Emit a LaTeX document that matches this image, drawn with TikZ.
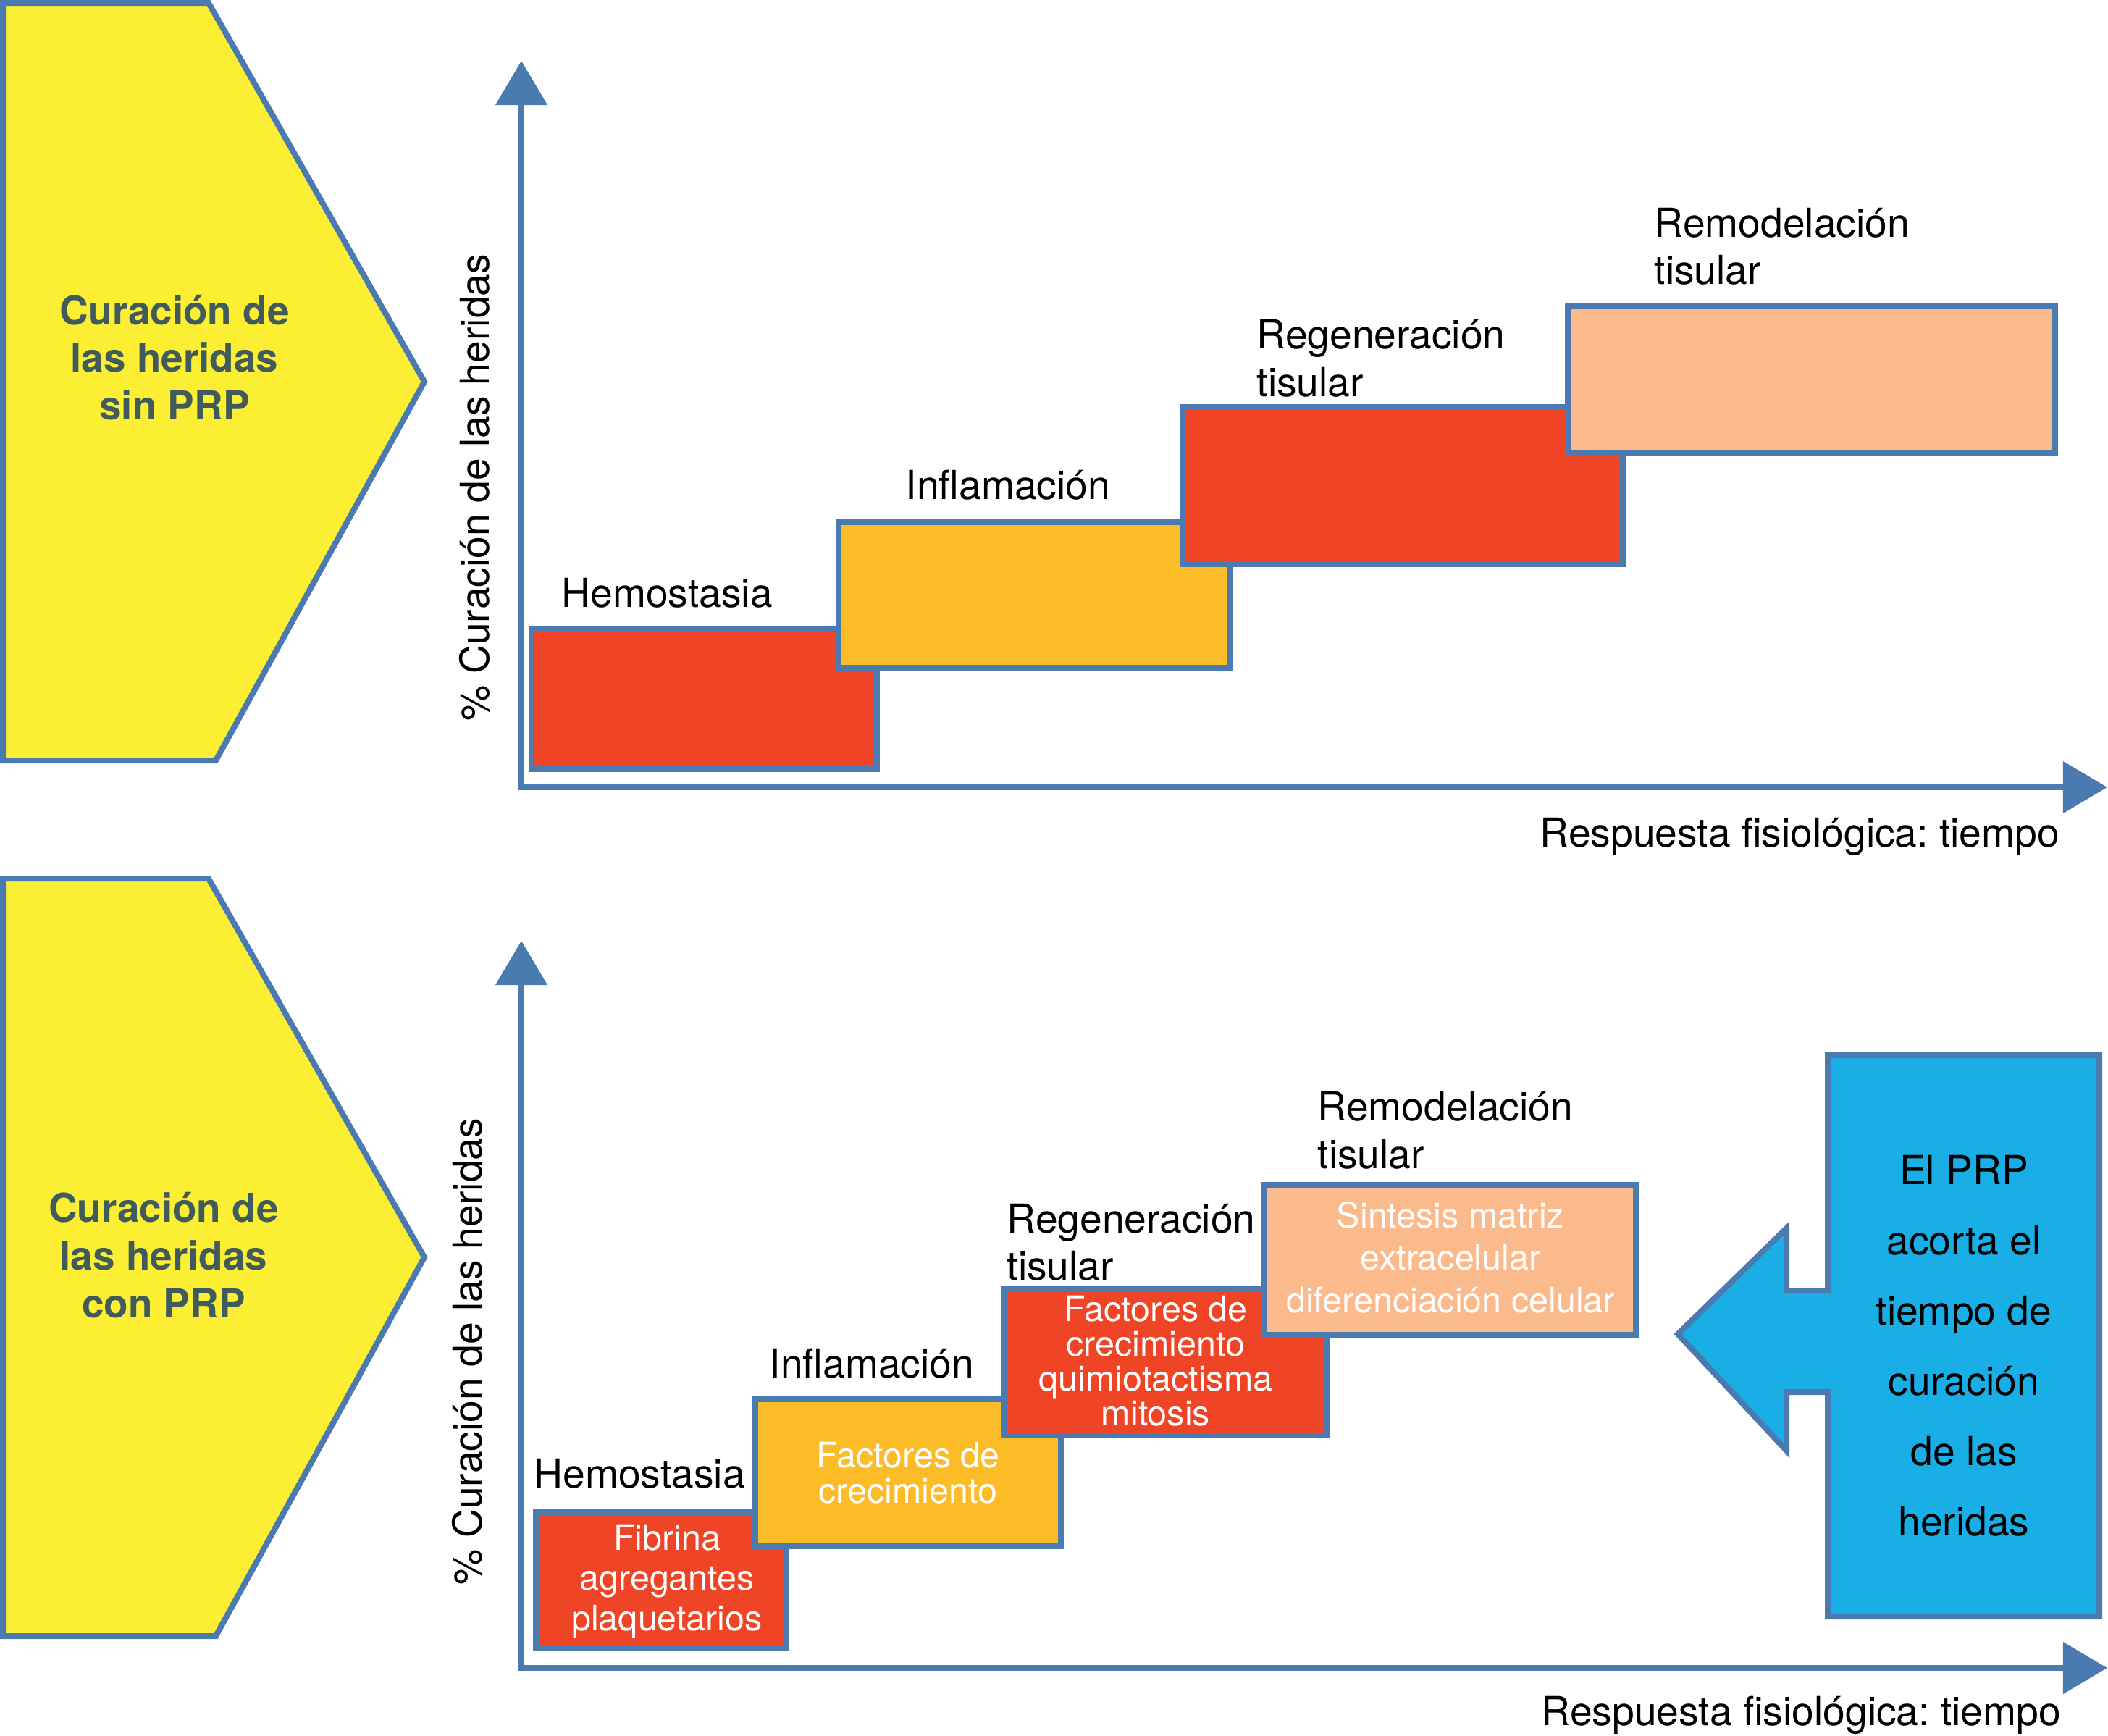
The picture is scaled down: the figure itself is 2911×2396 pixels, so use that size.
\documentclass[tikz,border=0pt]{standalone}
\usepackage{fontspec}
\setmainfont{TeX Gyre Heros}
\usetikzlibrary{arrows.meta,fit}
\definecolor{bordblue}{HTML}{4A7AAF}
\definecolor{pyellow}{HTML}{FCEE32}
\definecolor{bred}{HTML}{EF4426}
\definecolor{borange}{HTML}{FCBC28}
\definecolor{bpeach}{HTML}{FABA8C}
\definecolor{bcyan}{HTML}{19AEE5}
\definecolor{ptext}{HTML}{3F5B5B}
\newcommand\blkL[2]{\vtop{\baselineskip=#1\relax\lineskiplimit=-\maxdimen\halign{##\hfil\cr#2\crcr}}}
\newcommand\blkC[2]{\vtop{\baselineskip=#1\relax\lineskiplimit=-\maxdimen\halign{\hfil##\hfil\cr#2\crcr}}}
\frenchspacing
\begin{document}
\begin{tikzpicture}[x=0.01cm,y=-0.01cm,
  outl/.style={draw=bordblue,line width=0.08cm,line join=miter},
  phase/.style={outl,inner sep=0pt,outer sep=0pt},
  lbl/.style={inner sep=0pt,anchor=base west,font=\fontsize{15.7}{18.8}\selectfont},
  wtxt/.style={inner sep=0pt,anchor=base,text=white,font=\fontsize{13.77}{15}\selectfont},
  ptxt/.style={inner sep=0pt,anchor=base,text=ptext,font=\fontsize{15.6}{18.6}\bfseries\selectfont},
  axis/.style={draw=bordblue,line width=0.08cm,line join=miter,
    arrows={Triangle[length=6.1mm,width=7mm]-Triangle[length=6.1mm,width=7mm]}}]
\useasboundingbox (0,0) rectangle (2911,2396);

% ---------------- top panel ----------------
\draw[outl,fill=pyellow] (4,4) -- (288,4) -- (586,527) -- (298,1050) -- (4,1050) -- cycle;
\node[ptxt] (p1) at (241,448) {\blkC{0.655cm}{Curación de\cr las heridas\cr sin PRP}};

\coordinate (y1) at (720,84);
\coordinate (o1) at (720,1087);
\coordinate (x1) at (2910,1087);
\draw[axis] (y1) -- (o1) -- (x1);
\node[lbl,rotate=90,anchor=base] (yl1) at (675,673) {\% Curación de las heridas};
\node[lbl,anchor=base east] (xl1) at (2845,1169) {Respuesta fisiológica: tiempo};

\node[phase,fill=bred,fit={(734,868) (1211,1062)}] (t1) {};
\node[phase,fill=borange,fit={(1158,721) (1698,922)}] (t2) {};
\node[phase,fill=bred,fit={(1633,562) (2241,779)}] (t3) {};
\node[phase,fill=bpeach,fit={(2165,423) (2838,625)}] (t4) {};

\node[lbl] (lt1) at (775,838) {Hemostasia};
\node[lbl] (lt2) at (1250,689) {Inflamación};
\node[lbl] (lt3) at (1735,481) {\blkL{0.66cm}{Regeneración\cr tisular}};
\node[lbl] (lt4) at (2284,327) {\blkL{0.65cm}{Remodelación\cr tisular}};

% ---------------- bottom panel ----------------
\draw[outl,fill=pyellow] (4,1213) -- (288,1213) -- (586,1736) -- (298,2259) -- (4,2259) -- cycle;
\node[ptxt] (p2) at (226,1687) {\blkC{0.66cm}{Curación de\cr las heridas\cr con PRP}};

\coordinate (y2) at (720,1299);
\coordinate (o2) at (720,2303);
\coordinate (x2) at (2910,2303);
\draw[axis] (y2) -- (o2) -- (x2);
\node[lbl,rotate=90,anchor=base] (yl2) at (665,1866) {\% Curación de las heridas};
\node[lbl,anchor=base east] (xl2) at (2847,2382) {Respuesta fisiológica: tiempo};

\node[phase,fill=bred,fit={(740,2088) (1085,2276)}] (b1) {};
\node[wtxt] (w1) at (921,2140) {\blkC{0.555cm}{Fibrina\cr agregantes\cr plaquetarios}};
\node[phase,fill=borange,fit={(1043,1932) (1465,2135)}] (b2) {};
\node[wtxt] (w2) at (1254,2026) {\blkC{0.49cm}{Factores de\cr crecimiento}};
\node[phase,fill=bred,fit={(1387,1779) (1832,1982)}] (b3) {};
\node[wtxt] (w3) at (1596,1824) {\blkC{0.48cm}{Factores de\cr crecimiento\cr quimiotactisma\cr mitosis}};
\node[phase,fill=bpeach,fit={(1746,1636) (2259,1843)}] (b4) {};
\node[wtxt] (w4) at (2003,1695) {\blkC{0.585cm}{Sintesis matriz\cr extracelular\cr diferenciación celular}};

\node[lbl] (lb1) at (737,2054) {Hemostasia};
\node[lbl] (lb2) at (1062,1902) {Inflamación};
\node[lbl] (lb3) at (1390,1702) {\blkL{0.65cm}{Regeneración\cr tisular}};
\node[lbl] (lb4) at (1819,1547) {\blkL{0.66cm}{Remodelación\cr tisular}};

\draw[outl,fill=bcyan] (2524,1457) -- (2899,1457) -- (2899,2232) -- (2524,2232) -- (2524,1922)
  -- (2467,1922) -- (2467,2003) -- (2317,1842) -- (2467,1696) -- (2467,1782) -- (2524,1782) -- cycle;
\node[lbl,anchor=base] (bt) at (2712,1635) {\blkC{0.97cm}{El PRP\cr acorta el\cr tiempo de\cr curación\cr de las\cr heridas}};
\end{tikzpicture}
\end{document}
